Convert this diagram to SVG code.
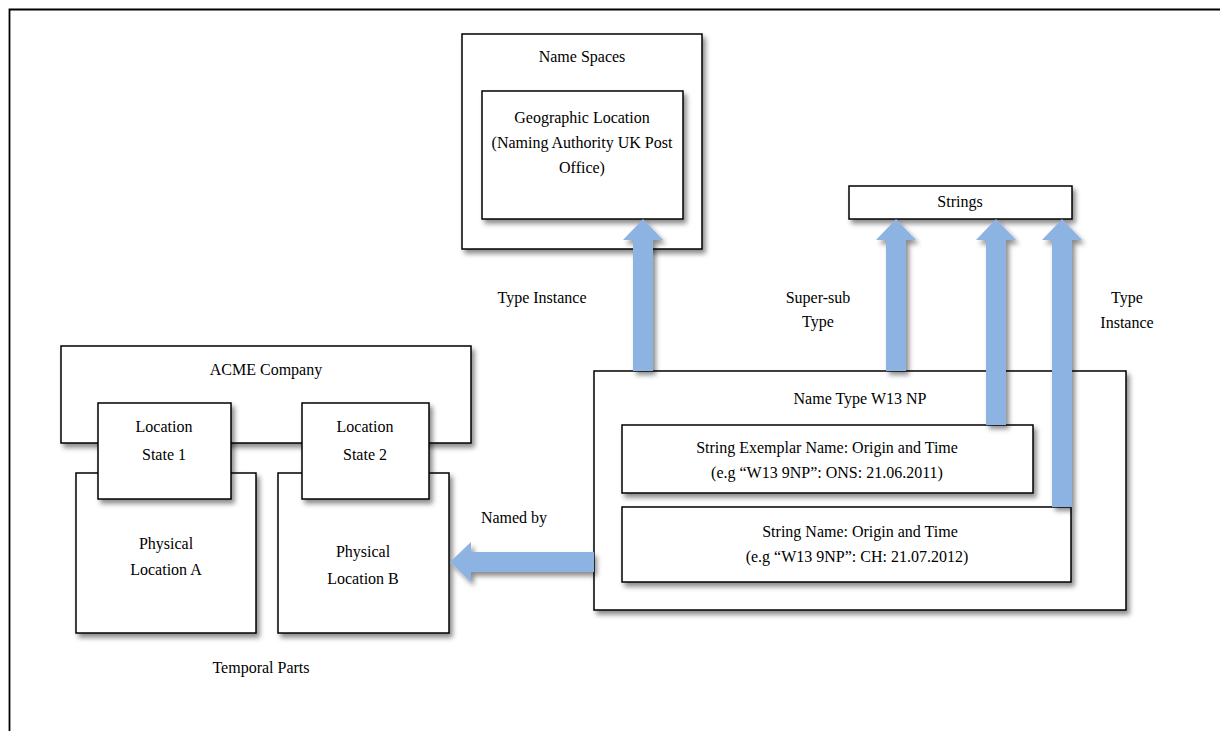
<svg xmlns="http://www.w3.org/2000/svg" width="1220" height="731" viewBox="0 0 1220 731" font-family="'Liberation Serif', 'Times New Roman', serif">
  <defs>
    <filter id="shadow" x="-10%" y="-10%" width="130%" height="140%">
      <feDropShadow dx="3" dy="4" stdDeviation="2.5" flood-color="#000" flood-opacity="0.45"/>
    </filter>
    <style>
      .box { fill: #fff; stroke: #000; stroke-width: 1.5; filter: url(#shadow); }
      .arrow { fill: #8db3e2; stroke: none; filter: url(#shadow); }
      text { font-family: "Liberation Serif", "Times New Roman", serif; font-size: 16px; fill: #000; text-anchor: middle; }
    </style>
  </defs>
  <rect width="1220" height="731" fill="#fff"/>

  <!-- page frame -->
  <path d="M9.5,731 V9.5 H1220" fill="none" stroke="#000" stroke-width="1.8"/>

  <!-- namespaces -->
  <g id="name-spaces">
    <rect class="box" x="462" y="34" width="240" height="215"/>
    <text x="582" y="62">Name Spaces</text>
  </g>
  <g id="geographic-location">
    <rect class="box" x="482" y="91" width="201" height="128"/>
    <text x="582" y="123">Geographic Location</text>
    <text x="582" y="148">(Naming Authority UK Post</text>
    <text x="582" y="173">Office)</text>
  </g>

  <g id="strings">
    <rect class="box" x="849" y="186" width="223" height="33"/>
    <text x="960" y="207">Strings</text>
  </g>

  <!-- organisation and its temporal parts -->
  <g id="acme-company">
    <rect class="box" x="61" y="346" width="410" height="97"/>
    <text x="266" y="375">ACME Company</text>
  </g>
  <g id="physical-location-a">
    <rect class="box" x="76" y="473" width="180" height="160"/>
    <text x="166" y="549">Physical</text>
    <text x="166" y="575">Location A</text>
  </g>
  <g id="physical-location-b">
    <rect class="box" x="278" y="473" width="171" height="160"/>
    <text x="363" y="557">Physical</text>
    <text x="363" y="584">Location B</text>
  </g>
  <g id="location-state-1">
    <rect class="box" x="98" y="403" width="133" height="96"/>
    <text x="164" y="432">Location</text>
    <text x="164" y="460">State 1</text>
  </g>
  <g id="location-state-2">
    <rect class="box" x="302" y="403" width="127" height="96"/>
    <text x="365" y="432">Location</text>
    <text x="365" y="460">State 2</text>
  </g>
  <g id="temporal-parts-label">
    <text x="261" y="673">Temporal Parts</text>
  </g>

  <!-- name type and its strings -->
  <g id="name-type">
    <rect class="box" x="594" y="371" width="532" height="239"/>
    <text x="860" y="404">Name Type W13 NP</text>
  </g>
  <g id="string-exemplar-name">
    <rect class="box" x="622" y="425" width="411" height="68"/>
    <text x="827" y="453">String Exemplar Name: Origin and Time</text>
    <text x="827" y="478">(e.g “W13 9NP”: ONS: 21.06.2011)</text>
  </g>
  <g id="string-name">
    <rect class="box" x="622" y="507" width="449" height="75"/>
    <text x="860" y="537">String Name: Origin and Time</text>
    <text x="857" y="562">(e.g “W13 9NP”: CH: 21.07.2012)</text>
  </g>

  <!-- block arrows -->
  <g id="connectors">
    <polygon class="arrow" points="643,219 663,240 653,240 653,371 633,371 633,240 623,240"/>
    <polygon class="arrow" points="896,219 916,240 906,240 906,371 886,371 886,240 876,240"/>
    <polygon class="arrow" points="996,219 1016,240 1006,240 1006,425 986,425 986,240 976,240"/>
    <polygon class="arrow" points="1062,219 1082,240 1072,240 1072,507 1052,507 1052,240 1042,240"/>
    <polygon class="arrow" points="450,562 471,542 471,552 594,552 594,572 471,572 471,582"/>
  </g>

  <!-- connector labels -->
  <g id="connector-labels">
    <text x="542" y="303">Type Instance</text>
    <text x="818" y="303">Super-sub</text>
    <text x="818" y="327">Type</text>
    <text x="1127" y="303">Type</text>
    <text x="1127" y="328">Instance</text>
    <text x="514" y="523">Named by</text>
  </g>
</svg>
